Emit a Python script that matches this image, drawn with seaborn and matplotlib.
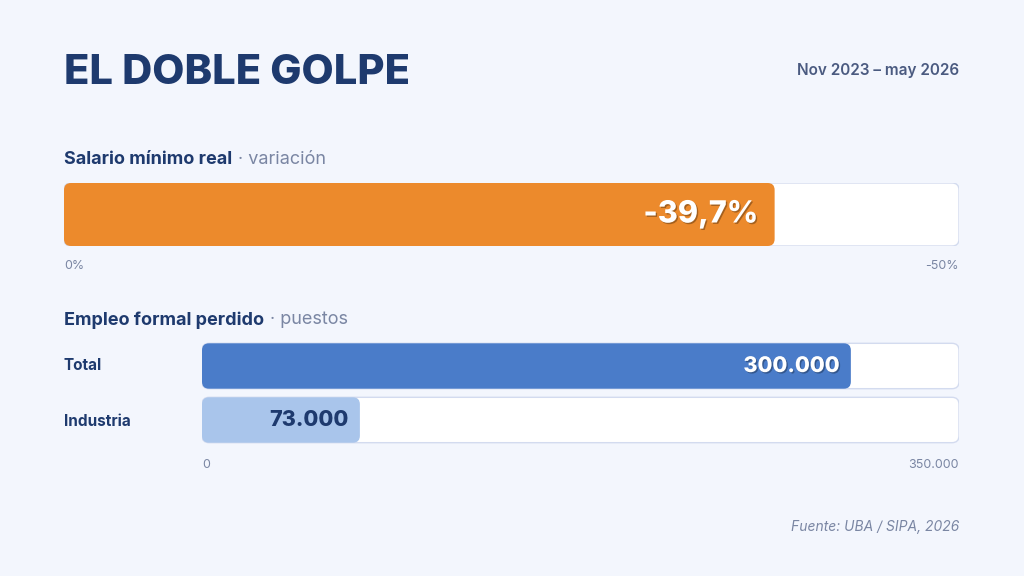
import pandas as pd
import matplotlib.pyplot as plt
import seaborn as sns
from matplotlib.patches import FancyBboxPatch
import matplotlib.patheffects as pe

# datos
salario_label = "Salario mínimo real"
salario_valor = 39.7          # caída en %
salario_max = 50
empleo_cats = ["Total", "Industria"]
empleo_vals = [300000, 73000]
empleo_max = 350000
empleo_textos = ["300.000", "73.000"]

NAVY = "#1e3a6e"
GRAY = "#7a86a3"
BG = "#f3f6fd"

sns.set_theme(style="white")
plt.rcParams["font.family"] = ["Inter", "DejaVu Sans"]

W, H = 1024, 576
fig = plt.figure(figsize=(W / 100, H / 100), dpi=100, facecolor=BG)
renderer = fig.canvas.get_renderer()


def px_axes(x0, y0, x1, y1):
    return fig.add_axes([x0 / W, 1 - y1 / H, (x1 - x0) / W, (y1 - y0) / H])


def rounded(ax, x, y, w, h, color, ec="none", r_px=7, z=2):
    bb = ax.get_window_extent()
    xl, yl = ax.get_xlim(), ax.get_ylim()
    dx = abs(xl[1] - xl[0]) / bb.width
    dy = abs(yl[1] - yl[0]) / bb.height
    p = FancyBboxPatch((x, y), w, h, boxstyle=f"round,pad=0,rounding_size={r_px * dx}",
                       mutation_aspect=dy / dx, fc=color, ec=ec, lw=1, zorder=z)
    ax.add_patch(p)


def round_bars(ax, colors):
    for patch, c in zip(list(ax.patches), colors):
        x, y, w, h = patch.get_x(), patch.get_y(), patch.get_width(), patch.get_height()
        patch.remove()
        rounded(ax, x, y, w, h, c, z=3)


def heading(y, bold, light):
    t = fig.text(64 / W, 1 - y / H, bold, fontsize=13, fontweight="bold",
                 color=NAVY, va="center")
    x_end = t.get_window_extent(renderer).x1
    fig.text((x_end + 6) / W, 1 - y / H, "· " + light, fontsize=13, color=GRAY,
             va="center")


shadow = [pe.withSimplePatchShadow(offset=(1, -1), shadow_rgbFace="#00000055")]

# Titulo
fig.text(64 / W, 1 - 73 / H, "EL DOBLE GOLPE", fontsize=30, fontweight="heavy",
         color=NAVY, va="center")
fig.text(959 / W, 1 - 70 / H, "Nov 2023 – may 2026", fontsize=11, fontweight="semibold",
         color="#4a5a80", ha="right", va="center")

# Salario
heading(160, salario_label, "variación")

ax1 = px_axes(64, 183, 959, 246)
df1 = pd.DataFrame({"cat": [salario_label], "val": [salario_valor]})
sns.barplot(data=df1, x="val", y="cat", width=1, ax=ax1)
ax1.set_xlim(0, salario_max)
ax1.set_ylim(0.5, -0.5)
ax1.axis("off")
rounded(ax1, 0, -0.5, salario_max, 1, "white", ec="#d3dbef", z=1)
round_bars(ax1, ["#ec8a2c"])
ax1.text(salario_valor - 0.9, 0, f"-{salario_valor:.1f}%".replace(".", ","), ha="right",
         va="center", fontsize=22, fontweight="heavy", color="white", path_effects=shadow,
         zorder=5)
fig.text(64 / W, 1 - 266 / H, "0%", fontsize=9, color=GRAY, va="center")
fig.text(959 / W, 1 - 266 / H, "-50%", fontsize=9, color=GRAY, va="center", ha="right")

# Empleo
heading(320, "Empleo formal perdido", "puestos")

ax2 = px_axes(202, 339, 959, 447)
df2 = pd.DataFrame({"cat": empleo_cats, "val": empleo_vals})
sns.barplot(data=df2, x="val", y="cat", width=0.84, ax=ax2)
ax2.set_xlim(0, empleo_max)
ax2.set_ylim(1.5, -0.5)
ax2.axis("off")
for i in range(len(empleo_cats)):
    rounded(ax2, 0, i - 0.42, empleo_max, 0.84, "white", ec="#d3dbef", z=1)
round_bars(ax2, ["#4a7cc9", "#a9c5eb"])
txt_colors = ["white", NAVY]
for i, (v, t) in enumerate(zip(empleo_vals, empleo_textos)):
    ax2.text(v - 5000, i, t, ha="right", va="center", fontsize=15.5, fontweight="heavy",
             color=txt_colors[i], path_effects=shadow if i == 0 else None, zorder=5)
    fig.text(64 / W, 1 - (365 + i * 56) / H, empleo_cats[i], fontsize=11,
             fontweight="bold", color=NAVY, va="center")
fig.text(202 / W, 1 - 465 / H, "0", fontsize=9, color=GRAY, va="center")
fig.text(959 / W, 1 - 465 / H, "350.000", fontsize=9, color=GRAY, va="center", ha="right")

fig.text(959 / W, 1 - 527 / H, "Fuente: UBA / SIPA, 2026", fontsize=10, style="italic",
         color=GRAY, ha="right", va="center")

fig.savefig("out.png", dpi=100, facecolor=BG)
